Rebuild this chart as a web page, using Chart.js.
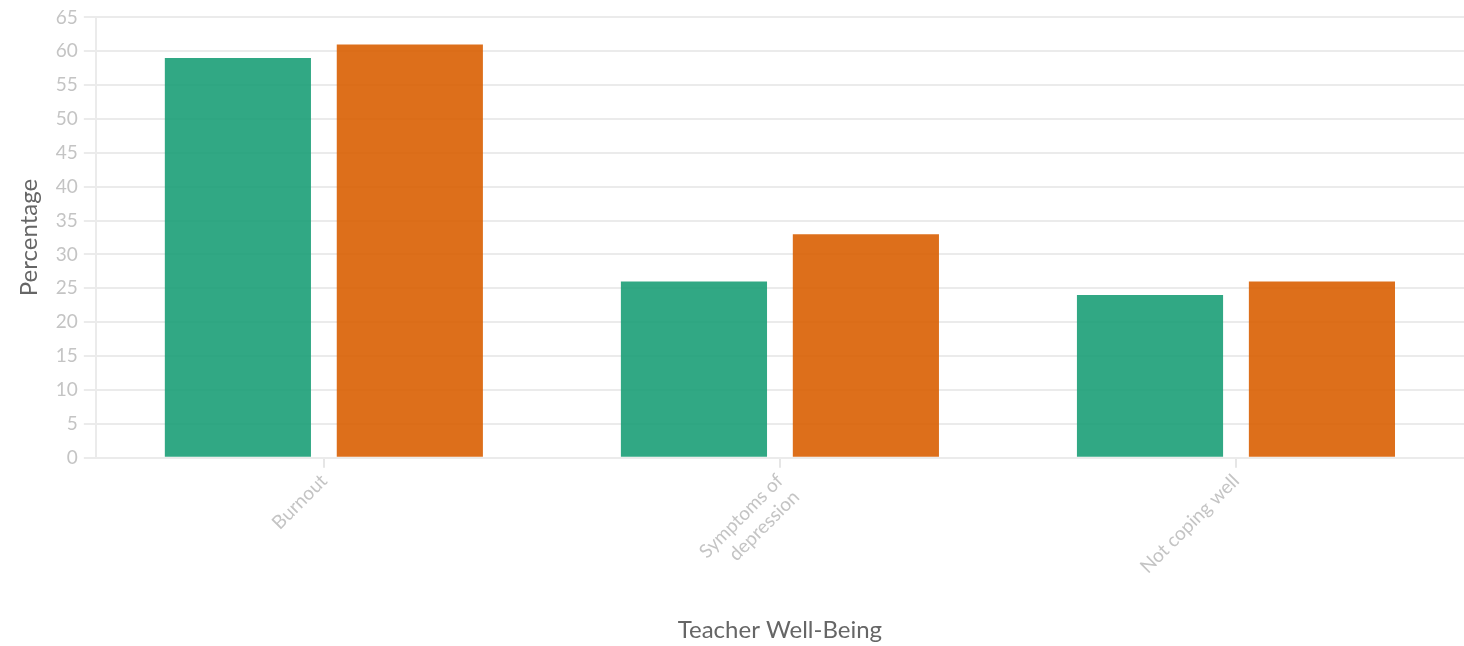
<!DOCTYPE html>
<html>
<head>
<meta charset="utf-8">
<script src="https://cdn.jsdelivr.net/npm/chart.js@4"></script>
<style>
html,body{margin:0;padding:0;background:#fff;}
#wrap{width:1464px;height:646px;position:relative;}
</style>
</head>
<body>
<div id="wrap"><canvas id="c"></canvas></div>
<script>
const categories = [["Burnout"], ["Symptoms of", "depression"], ["Not coping well"]];
const seriesA = [59, 26, 24];
const seriesB = [61, 33, 26];
const seriesNames = ["Series A", "Series B"];
const yTicks = [0, 5, 10, 15, 20, 25, 30, 35, 40, 45, 50, 55, 60, 65];

new Chart(document.getElementById('c'), {
  type: 'bar',
  data: {
    labels: categories,
    datasets: [
      { label: seriesNames[0], data: seriesA, backgroundColor: 'rgba(27,158,119,0.9)', borderWidth: 0, categoryPercentage: 0.754, barPercentage: 0.85 },
      { label: seriesNames[1], data: seriesB, backgroundColor: 'rgba(217,95,2,0.9)', borderWidth: 0, categoryPercentage: 0.754, barPercentage: 0.85 }
    ]
  },
  options: {
    responsive: true,
    maintainAspectRatio: false,
    animation: false,
    layout: { padding: { top: 8, right: 0, bottom: 1, left: 15 } },
    plugins: { legend: { display: false }, tooltip: { enabled: false } },
    scales: {
      x: {
        grid: { display: true, offset: false, drawOnChartArea: false, drawTicks: true, tickLength: 10, color: '#e6e6e6', lineWidth: 2 },
        border: { color: '#ebebeb', width: 2 },
        ticks: { color: '#c4c4c4', font: { family: 'Lato', size: 19 }, maxRotation: 45, minRotation: 45, padding: 2 },
        title: { display: true, text: 'Teacher Well-Being', color: '#666', font: { family: 'Lato', size: 24 }, padding: { top: 20, bottom: 0 } }
      },
      y: {
        min: 0, max: 65,
        afterBuildTicks: (axis) => { axis.ticks = yTicks.map(v => ({ value: v })); },
        grid: { color: '#ebebeb', tickLength: 12, lineWidth: 2 },
        border: { color: '#ebebeb', width: 2 },
        ticks: { color: '#c4c4c4', font: { family: 'Lato', size: 19 }, padding: 6 },
        title: { display: true, text: 'Percentage', color: '#666', font: { family: 'Lato', size: 24 }, padding: { top: 0, bottom: 6 } }
      }
    }
  }
});
</script>
</body>
</html>
